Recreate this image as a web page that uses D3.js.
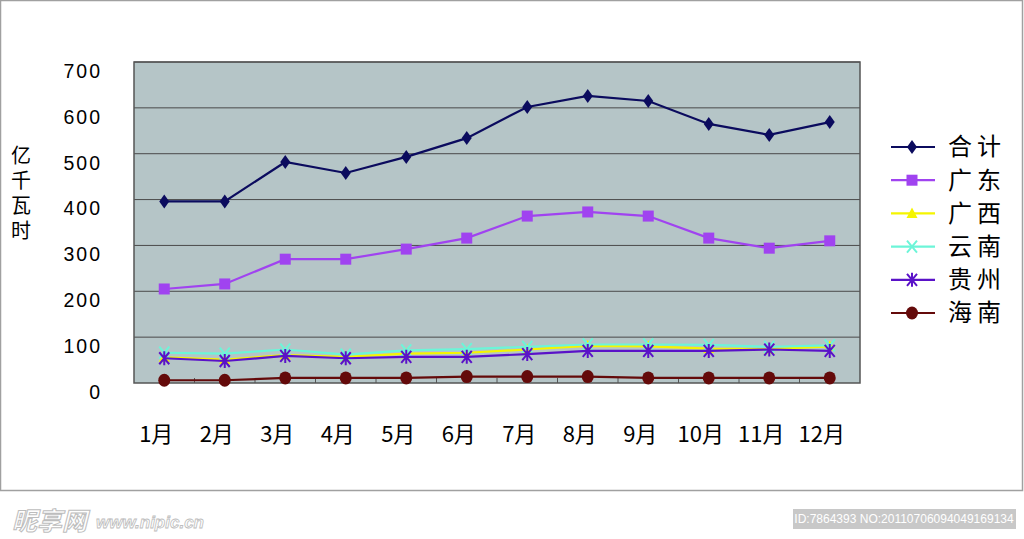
<!DOCTYPE html>
<html>
<head>
<meta charset="utf-8">
<script src="https://cdn.jsdelivr.net/npm/d3@7"></script>
<style>
  body { margin: 0; background: #fff; }
  text { font-family: "Liberation Sans", Arial, "Noto Sans CJK SC", sans-serif; }
  .cjk { font-family: "Noto Sans CJK SC", sans-serif; }
</style>
</head>
<body>
<script>
var width = 1024,
    height = 539;

// data
var months = ['1月', '2月', '3月', '4月', '5月', '6月', '7月', '8月', '9月', '10月', '11月', '12月'];
var yTicks = [0, 100, 200, 300, 400, 500, 600, 700];
var heji     = [396, 396, 482, 458, 493, 534, 602, 626, 615, 565, 541, 569];
var guangdong = [205, 216, 270, 270, 292, 316, 364, 373, 364, 316, 294, 310];
var guangxi  = [56, 51, 61, 57, 64, 66, 73, 81, 80, 75, 74, 80];
var yunnan   = [66, 64, 73, 62, 71, 74, 79, 84, 84, 83, 79, 82];
var guizhou  = [54, 48, 59, 54, 57, 57, 63, 70, 70, 70, 73, 70];
var hainan   = [6, 6, 11, 11, 11, 14, 14, 14, 11, 11, 11, 11];

var series = [
  {name: '合计', values: heji,      color: '#0b0b5e', marker: 'diamond'},
  {name: '广东', values: guangdong, color: '#a043f0', marker: 'square'},
  {name: '广西', values: guangxi,   color: '#f5f500', marker: 'triangle'},
  {name: '云南', values: yunnan,    color: '#6cf5d8', marker: 'x'},
  {name: '贵州', values: guizhou,   color: '#5a12c8', marker: 'star'},
  {name: '海南', values: hainan,    color: '#640a0a', marker: 'circle'}
];

var svg = d3.select('body').append('svg')
    .attr('width', width)
    .attr('height', height);

// chart frame
svg.append('rect')
    .attr('x', 0.5).attr('y', 0.5)
    .attr('width', 1022).attr('height', 490)
    .attr('fill', '#fff')
    .attr('stroke', '#a0a0a0')
    .attr('stroke-width', 1.5);

var pLeft = 134, pRight = 860, pTop = 62, pBottom = 383;

var x = d3.scaleBand().domain(months).range([pLeft, pRight]);
var y = d3.scaleLinear().domain([0, 700]).range([pBottom, pTop]);
var cx = function(i) { return x(months[i]) + x.bandwidth() / 2; };

// plot background
svg.append('rect')
    .attr('x', pLeft).attr('y', pTop)
    .attr('width', pRight - pLeft).attr('height', pBottom - pTop)
    .attr('fill', '#b5c5c7');

// gridlines
svg.append('g')
  .selectAll('line')
    .data(yTicks.slice(1))
    .enter().append('line')
    .attr('x1', pLeft).attr('x2', pRight)
    .attr('y1', function(d) { return y(d); })
    .attr('y2', function(d) { return y(d); })
    .attr('stroke', '#4a4a4a')
    .attr('stroke-width', 1);

// plot border
svg.append('rect')
    .attr('x', pLeft).attr('y', pTop)
    .attr('width', pRight - pLeft).attr('height', pBottom - pTop)
    .attr('fill', 'none')
    .attr('stroke', '#555')
    .attr('stroke-width', 1.5);

// category ticks inside the bottom axis
svg.append('g')
  .selectAll('line')
    .data(months.slice(1))
    .enter().append('line')
    .attr('x1', function(d) { return x(d); })
    .attr('x2', function(d) { return x(d); })
    .attr('y1', pBottom).attr('y2', pBottom - 5)
    .attr('stroke', '#555');

// y tick labels (sit a bit below their gridline, as in the original)
svg.append('g')
  .selectAll('text')
    .data(yTicks)
    .enter().append('text')
    .attr('x', 102)
    .attr('y', function(d) { return y(d) + 9; })
    .attr('dy', '0.35em')
    .attr('text-anchor', 'end')
    .attr('font-size', 19.5)
    .attr('letter-spacing', 2)
    .text(function(d) { return d; });

// x labels
svg.append('g')
  .selectAll('text')
    .data(months)
    .enter().append('text')
    .attr('class', 'cjk')
    .attr('x', function(d) { return x(d) + x.bandwidth() / 2 - 8; })
    .attr('y', 434)
    .attr('dy', '0.35em')
    .attr('text-anchor', 'middle')
    .attr('font-size', 22)
    .text(function(d) { return d; });

// y axis title, vertical
svg.append('text')
    .attr('class', 'cjk')
    .attr('x', 21)
    .attr('y', 145)
    .style('writing-mode', 'vertical-rl')
    .attr('font-size', 20)
    .attr('letter-spacing', 5)
    .text('亿千瓦时');

function drawMarker(sel, s) {
  if (s.marker == 'diamond') {
    sel.append('path').attr('d', 'M0,-7L5,0L0,7L-5,0Z').attr('fill', s.color);
  } else if (s.marker == 'square') {
    sel.append('rect').attr('x', -5.5).attr('y', -5.5).attr('width', 11).attr('height', 11).attr('fill', s.color);
  } else if (s.marker == 'triangle') {
    sel.append('path').attr('d', 'M0,-6L5.5,4.5L-5.5,4.5Z').attr('fill', s.color);
  } else if (s.marker == 'x') {
    sel.append('path').attr('d', 'M-5,-6L5,6M5,-6L-5,6').attr('stroke', s.color).attr('stroke-width', 2);
  } else if (s.marker == 'star') {
    sel.append('path').attr('d', 'M-5,-6L5,6M5,-6L-5,6M0,-7L0,7').attr('stroke', s.color).attr('stroke-width', 2);
  } else {
    sel.append('ellipse').attr('rx', 6).attr('ry', 6.5).attr('fill', s.color);
  }
}

var line = d3.line()
    .x(function(d, i) { return cx(i); })
    .y(function(d) { return y(d); });

series.forEach(function(s) {
  var g = svg.append('g');
  g.append('path')
      .attr('d', line(s.values))
      .attr('fill', 'none')
      .attr('stroke', s.color)
      .attr('stroke-width', 2.2);
  g.selectAll('g.m')
      .data(s.values)
      .enter().append('g')
      .attr('class', 'm')
      .attr('transform', function(d, i) { return 'translate(' + cx(i) + ',' + y(d) + ')'; })
      .each(function() { drawMarker(d3.select(this), s); });
});

// legend
var legend = svg.append('g')
  .selectAll('g')
    .data(series)
    .enter().append('g')
    .attr('transform', function(d, i) { return 'translate(0,' + (147 + i * 33.2) + ')'; });

legend.append('line')
    .attr('x1', 891).attr('x2', 935)
    .attr('stroke', function(d) { return d.color; })
    .attr('stroke-width', 2.2);
legend.append('g')
    .attr('transform', 'translate(912,0)')
    .each(function(d) { drawMarker(d3.select(this), d); });
legend.append('text')
    .attr('class', 'cjk')
    .attr('x', 948)
    .attr('dy', '0.35em')
    .attr('font-size', 24)
    .attr('letter-spacing', 5)
    .text(function(d) { return d.name; });

// watermark footer
svg.append('text')
    .attr('class', 'cjk')
    .attr('x', 12).attr('y', 530)
    .attr('font-size', 25)
    .attr('font-style', 'italic')
    .attr('font-weight', 'bold')
    .attr('fill', '#fff')
    .attr('stroke', '#bdbdbd')
    .attr('stroke-width', 1)
    .text('昵享网');
svg.append('text')
    .attr('x', 96).attr('y', 528)
    .attr('font-size', 17)
    .attr('font-style', 'italic')
    .attr('font-weight', 'bold')
    .attr('fill', '#fff')
    .attr('stroke', '#bdbdbd')
    .attr('stroke-width', 0.8)
    .text('www.nipic.cn');

svg.append('rect')
    .attr('x', 793).attr('y', 509)
    .attr('width', 223).attr('height', 20)
    .attr('fill', '#c8c8c8');
svg.append('text')
    .attr('x', 904).attr('y', 519)
    .attr('dy', '0.35em')
    .attr('text-anchor', 'middle')
    .attr('font-size', 12)
    .attr('fill', '#fff')
    .text('ID:7864393 NO:20110706094049169134');
</script>
</body>
</html>
